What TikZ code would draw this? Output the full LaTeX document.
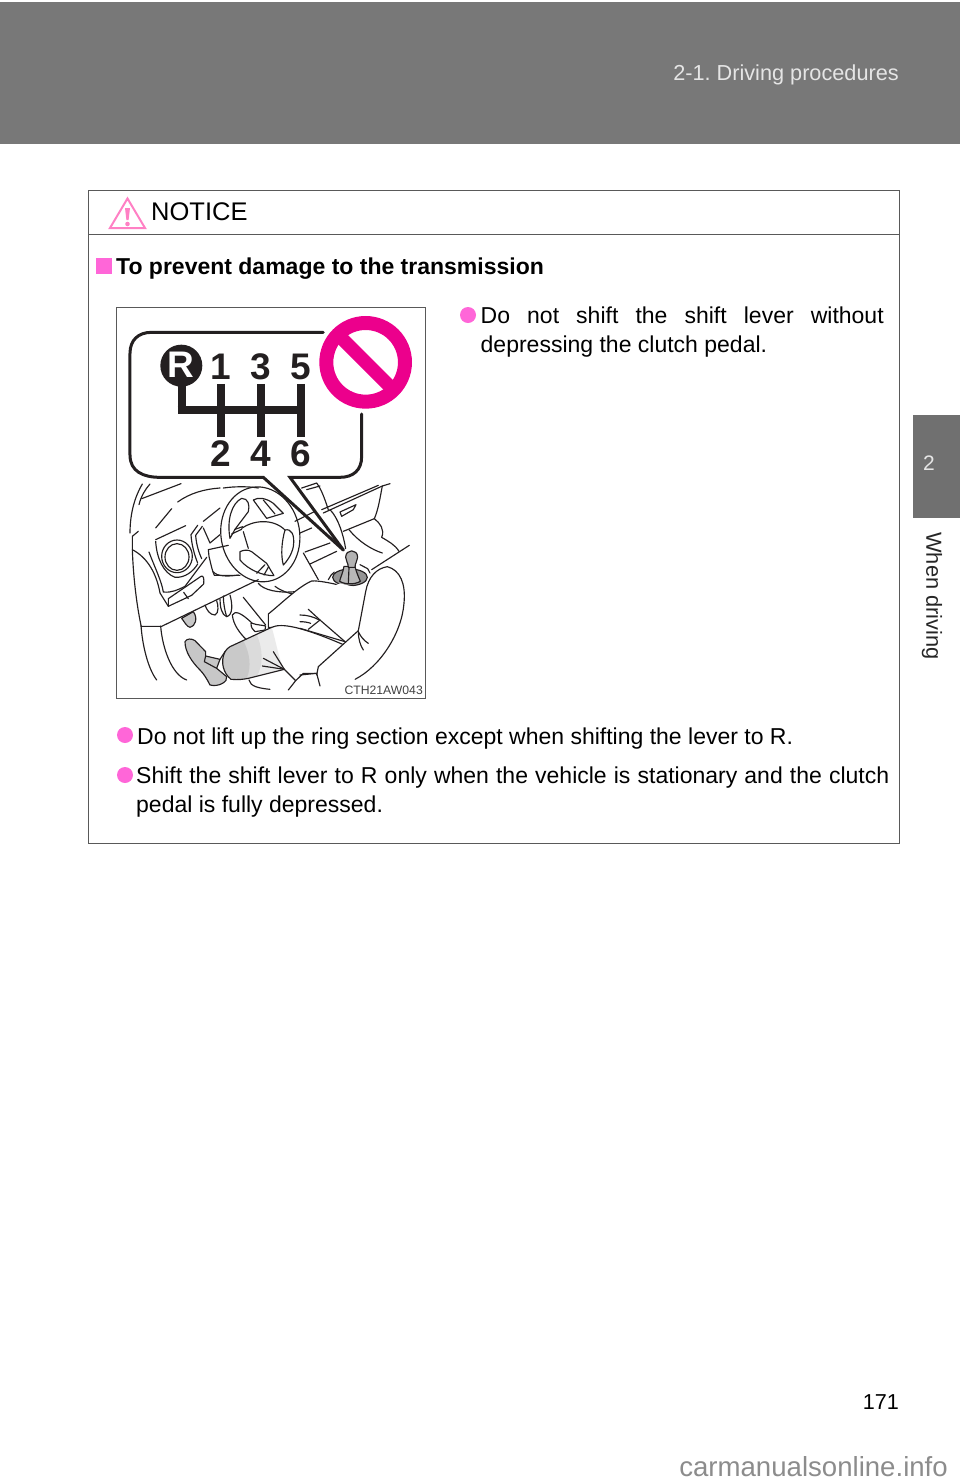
\documentclass[tikz,border=0pt]{standalone}
\usepackage{fontspec}
\setmainfont{Liberation Sans}
\usetikzlibrary{positioning}
\definecolor{headgray}{HTML}{787878}
\definecolor{tabgray}{HTML}{707070}
\definecolor{notepink}{HTML}{FF66D8}
\definecolor{warnpink}{HTML}{FF80C4}
\definecolor{banpink}{HTML}{EC008C}
\definecolor{inkblack}{HTML}{231F20}
\tikzset{
    bodytext/.style={anchor=base west,inner sep=0pt,font=\fontsize{23}{29}\selectfont,text=black,
        execute at begin node={\hyphenpenalty=10000\tolerance=9999}},
    dot/.style={circle,fill=notepink,inner sep=0pt,minimum size=16pt},
    art/.style={line width=1.15pt,inkblack,line cap=round,line join=round},
    gearnum/.style={font=\fontsize{37}{37}\selectfont\bfseries,text=inkblack,inner sep=0pt},
    gateline/.style={line width=8pt,inkblack},
    zoomed/.style={shift={#1},x=0.3333pt,y=-0.3333pt},
}
\begin{document}
\frenchspacing
\begin{tikzpicture}[x=1pt,y=-1pt]
    \useasboundingbox (0,0) rectangle (960,1484);
    %% Page furniture
    \fill[headgray] (0,2) rectangle (960,144);
    \fill[tabgray] (913,415) rectangle (960,518);
    \node[anchor=base east,inner sep=0pt,text=white!90!black,font=\fontsize{21.7}{26}\selectfont] (section) at (899,80) {2-1. Driving procedures};
    \node[text=white!90!black,inner sep=0pt,font=\fontsize{21}{25}\selectfont] (tabnum) at (929,463) {2};
    \node[rotate=-90,text=black!85,inner sep=0pt,font=\fontsize{21.8}{26}\selectfont] (tabname) at (932,596) {When driving};
    \node[anchor=base east,inner sep=0pt,font=\fontsize{21.6}{26}\selectfont] (pagenum) at (899,1409) {171};
    \node[anchor=base east,inner sep=0pt,text=black!45,font=\fontsize{27.6}{30}\selectfont] (website) at (948,1476) {carmanualsonline.info};
    %% Notice box
    \draw[line width=1pt,black!65] (88.5,190.5) rectangle (899.5,843.5);
    \draw[line width=1pt,black!65] (88.5,234) -- (899.5,234);
    \draw[warnpink,line width=2pt,line join=miter] (127.5,198.5) -- (145,228) -- (110,228) -- cycle;
    \fill[warnpink] (125,208) -- (130,208) -- (128.6,220) -- (126.4,220) -- cycle;
    \fill[warnpink] (127.5,224) circle (2.3pt);
    \node[anchor=base west,inner sep=0pt,font=\fontsize{25.5}{32}\selectfont] (notice) at (151,220) {NOTICE};
    \fill[notepink] (96,258) rectangle (112,274);
    \node[bodytext,font=\fontsize{23}{29}\selectfont\bfseries] (heading) at (116,274) {To prevent damage to the transmission};
    %% Bullets
    \node[dot] (dota) at (468,315) {};
    \node[bodytext,anchor=north west,text width=403pt,align=justify] (texta) at (480.5,307) {Do not shift the shift lever without depressing the clutch pedal.};
    \node[dot] (dotb) at (125,735) {};
    \node[bodytext] (textb) at (137,744) {Do not lift up the ring section except when shifting the lever to R.};
    \node[dot] (dotc) at (125,775) {};
    \node[bodytext,anchor=north west,text width=753pt,align=justify] (textc) at (136,767) {Shift the shift lever to R only when the vehicle is stationary and the clutch pedal is fully depressed.};
    %% Picture frame
    \draw[line width=1pt,black!65] (116.5,307.5) rectangle (425,698.5);
    \node[anchor=base east,inner sep=0pt,text=black!75,font=\fontsize{12.2}{15}\selectfont] (partcode) at (423,694) {CTH21AW043};
    %% Dash, left half
    \begin{scope}[zoomed={(125,478)}]
        \draw[art] (15,165) .. controls (15,105) and (30,55) .. (52,18);
        \draw[art] (42,80) .. controls (48,55) and (60,35) .. (75,18);
        \draw[art] (50,62) -- (168,17);
        \draw[art] (158,72) .. controls (195,45) and (240,33) .. (285,30);
        \draw[art] (295,30) .. controls (330,25) and (370,25) .. (400,30);
        \draw[art] (40,160) -- (22,175) -- (22,215) .. controls (70,240) and (95,290) .. (105,345);
        \draw[art] (22,215) .. controls (25,300) and (35,380) .. (48,442);
        \draw[art] (48,445) -- (110,445) -- (400,305);
        \draw[art] (105,345) -- (130,385);
        \draw[art] (48,442) .. controls (52,500) and (68,570) .. (95,606);
        \draw[art] (107,444) .. controls (112,510) and (140,590) .. (185,606);
        \draw[art] (140,92) -- (92,150);
        \draw[art] (92,185) -- (182,143);
        \draw[art] (72,222) .. controls (90,270) and (110,310) .. (115,342) .. controls (140,345) and (160,335) .. (180,325) -- (245,238);
        \draw[art] (92,190) .. controls (95,240) and (115,285) .. (150,298) .. controls (180,300) and (205,280) .. (218,258);
        \draw[art] (156,235) ellipse (46 and 49);
        \draw[art] (156,237) ellipse (36 and 40);
        \draw[art] (218,142) -- (198,170) .. controls (200,200) and (208,230) .. (218,255);
        \draw[art] (232,145) -- (212,172) .. controls (214,200) and (222,225) .. (230,242);
        \draw[art] (130,385) -- (130,362) -- (228,295) .. controls (235,292) and (238,300) .. (236,318) -- (200,352) -- cycle;
        \draw[art] (176,343) -- (190,362);
        \draw[art] (235,130) -- (285,90);
        \draw[art] (235,150) -- (255,195) -- (285,170);
        \draw[art] (250,215) -- (310,202);
        \draw[art] (250,215) -- (252,235) .. controls (258,260) and (262,280) .. (268,292) -- (345,292);
    \end{scope}
    %% Wheel
    \begin{scope}[zoomed={(110,470)}]
        \draw[art,rotate around={10:(451,193)}] (451,193) ellipse (118 and 143);
        \draw[art] (360,205) .. controls (350,150) and (365,100) .. (395,85) .. controls (415,85) and (420,105) .. (415,125) -- (375,178) -- cycle;
        \draw[art] (375,178) -- (398,170);
        \draw[art] (365,192) -- (395,178);
        \draw[art] (430,90) -- (470,145) -- (520,130) -- (490,100) .. controls (470,85) and (445,80) .. (430,90) -- cycle;
        \draw[art] (460,90) -- (495,132);
        \draw[art] (525,180) .. controls (545,175) and (555,195) .. (550,230) .. controls (545,255) and (530,275) .. (520,285) .. controls (512,255) and (515,215) .. (525,180) -- cycle;
        \draw[art] (390,245) .. controls (400,240) and (415,238) .. (425,245) -- (470,280) -- (492,317) .. controls (460,318) and (415,300) .. (390,270) -- cycle;
        \draw[art] (440,310) -- (465,284);
        \draw[art] (462,315) -- (476,290);
        \draw[art] (395,175) .. controls (430,150) and (490,145) .. (525,180);
        \draw[art] (400,185) -- (415,235);
    \end{scope}
    %% Console and lever
    \begin{scope}[zoomed={(275,478)}]
        \draw[art] (80,30) -- (125,15) .. controls (140,35) and (150,65) .. (160,95);
        \draw[art] (95,35) -- (135,24);
        \draw[art] (140,95) -- (310,22);
        \draw[art] (145,105) -- (322,24);
        \draw[art] (345,17) -- (322,24) .. controls (315,60) and (310,95) .. (298,122);
        \draw[art] (205,160) -- (298,122);
        \draw[art] (195,102) -- (243,80) -- (235,95) -- (200,115) -- cycle;
        \draw[art] (165,95) .. controls (190,120) and (205,170) .. (212,212);
        \draw[art] (222,155) .. controls (250,190) and (290,215) .. (322,225);
        \draw[art] (298,122) .. controls (315,135) and (330,155) .. (320,178) .. controls (340,190) and (360,200) .. (372,220);
        \draw[art] (403,202) -- (290,275);
        \draw[art] (60,130) -- (120,100);
        \draw[art] (75,165) -- (110,150);
        \draw[art] (90,222) -- (165,195);
        \draw[art] (105,258) -- (185,220);
        \draw[art] (85,225) -- (130,305);
        \draw[art] (0,325) .. controls (20,340) and (40,345) .. (60,350);
        %% Lever
        \draw[art] (160,305) .. controls (165,295) and (170,288) .. (178,282);
        \draw[art] (255,260) -- (278,272) -- (285,285);
        \draw[art,fill=black!42] (225,298) ellipse (52 and 25);
        \draw[art,fill=black!28] (207,265) .. controls (204,285) and (196,298) .. (194,310) .. controls (210,320) and (240,320) .. (256,310) .. controls (250,295) and (243,280) .. (240,265) -- cycle;
        \draw[art] (222,270) -- (220,316);
        \draw[art,fill=black!30] (212,238) .. controls (212,212) and (248,212) .. (248,238) .. controls (248,248) and (240,255) .. (240,268) -- (220,268) .. controls (220,255) and (212,248) .. (212,238) -- cycle;
    \end{scope}
    %% Pedals and legs
    \begin{scope}[zoomed={(175,570)}]
        \draw[art,fill=black!22] (20,145) -- (55,125) .. controls (70,145) and (60,170) .. (45,172) .. controls (35,170) and (28,155) .. (20,145) -- cycle;
        \draw[art] (90,105) .. controls (95,120) and (105,135) .. (120,135) .. controls (132,130) and (130,105) .. (125,92);
        \draw[art] (135,88) .. controls (135,110) and (140,135) .. (155,140) .. controls (175,135) and (172,100) .. (165,75);
        \draw[art] (145,78) .. controls (145,100) and (150,125) .. (155,140);
        \draw[art] (115,5) .. controls (125,20) and (160,20) .. (190,15);
        \draw[art] (250,40) .. controls (265,60) and (310,70) .. (360,65);
        \draw[art] (205,82) -- (272,165);
        \draw[art,fill=white] (172,135) .. controls (180,122) and (195,125) .. (232,160) .. controls (245,165) and (260,165) .. (272,168) -- (270,180) -- (240,185) .. controls (232,178) and (228,172) .. (228,160);
        \draw[art] (172,135) .. controls (175,165) and (195,190) .. (215,210);
        \draw[art] (222,330) .. controls (225,350) and (255,355) .. (285,358);
        %% Far leg
        \draw[art,fill=white] (280,165) -- (280,132) .. controls (320,100) and (370,50) .. (410,33) .. controls (430,30) and (500,45) .. (545,60) -- (540,200) -- (280,172) -- cycle;
    \end{scope}
    \begin{scope}[zoomed={(300,560)}]
        \fill[white] (0,205) -- (135,245) -- (175,215) -- (200,90) -- (120,70) -- (0,120) -- cycle;
        \draw[art] (25,148) -- (60,180) -- (135,245);
        \draw[art] (0,165) .. controls (20,165) and (40,170) .. (58,180);
        \draw[art] (0,185) .. controls (12,185) and (25,187) .. (32,190);
        \draw[art] (25,208) -- (60,180);
    \end{scope}
    \begin{scope}[zoomed={(175,570)}]
        %% Near leg
        \fill[white] (290,172) .. controls (320,158) and (400,175) .. (510,230) -- (430,310) -- (385,310) -- (362,332) -- (328,298) -- cycle;
        \draw[art] (290,172) .. controls (320,158) and (380,170) .. (510,226);
        \fill[black!8] (150,245) -- (165,230) -- (290,172) .. controls (305,220) and (310,265) .. (328,298) -- (220,325) -- (168,328) .. controls (145,310) and (135,275) .. (150,245) -- cycle;
        \fill[black!14] (150,245) -- (165,230) -- (245,193) .. controls (265,240) and (265,285) .. (245,320) -- (220,325) -- (168,328) .. controls (145,310) and (135,275) .. (150,245) -- cycle;
        \fill[black!21] (150,245) -- (165,230) -- (205,212) .. controls (225,250) and (230,290) .. (215,326) -- (168,328) .. controls (145,310) and (135,275) .. (150,245) -- cycle;
        \draw[art] (150,245) .. controls (155,237) and (160,233) .. (165,230) -- (290,172);
        \draw[art] (168,328) .. controls (190,330) and (205,328) .. (220,325) -- (328,298);
        \draw[art] (150,245) .. controls (135,275) and (145,310) .. (168,328);
        \draw[art] (265,265) -- (328,298);
        \draw[art] (262,288) -- (328,298);
        \draw[art] (295,245) -- (328,298);
        \draw[art] (328,298) -- (362,332) -- (340,360);
        \draw[art] (362,332) -- (385,310) -- (425,310);
        %% Shoe
        \draw[art,fill=black!22] (30,215) .. controls (35,205) and (50,205) .. (60,212) -- (92,245) -- (92,258) -- (135,268) -- (125,295) -- (155,320) .. controls (160,335) and (130,352) .. (105,345) .. controls (95,325) and (85,310) .. (75,300) .. controls (50,275) and (30,245) .. (30,215) -- cycle;
        \draw[art] (92,258) -- (88,275) -- (125,295);
        \draw[art] (135,268) -- (150,245);
    \end{scope}
    %% Arm
    \begin{scope}[zoomed={(300,560)}]
        \draw[art,fill=white] (175,212) -- (197,95) .. controls (205,50) and (230,25) .. (262,20) .. controls (300,30) and (318,70) .. (312,130) .. controls (305,220) and (240,320) .. (165,358);
        \fill[white] (175,212) -- (55,320) -- (60,370) -- (165,358) -- cycle;
        \draw[art] (175,212) -- (55,320) -- (50,345);
        \draw[art] (50,340) -- (0,345);
        \draw[art] (50,340) -- (60,378);
        \draw[art] (175,215) .. controls (175,235) and (180,255) .. (190,270);
        \draw[art] (175,215) .. controls (182,230) and (192,242) .. (205,250);
        \draw[art] (0,205) -- (135,245);
    \end{scope}
    %% Gear pattern
    \begin{scope}[zoomed={(110,300)}]
        \draw[line width=3pt,inkblack,line cap=round] (640,97) -- (125,97) .. controls (85,97) and (60,120) .. (60,160)
            -- (60,465) .. controls (60,515) and (100,532) .. (150,532) -- (460,532) -- (700,750);
        \draw[line width=3pt,inkblack,line cap=round] (755,342) -- (755,470) .. controls (755,510) and (730,532) .. (690,532)
            -- (540,532) -- (700,750);
        \fill[inkblack] (214,197) circle (63);
        \node[inner sep=0pt,text=white,font=\fontsize{37}{37}\selectfont\bfseries] (rev) at (214,195) {R};
        \draw[gateline] (215,250) -- (215,330);
        \draw[gateline] (203,330) -- (585,330);
        \foreach \x/\up/\down in {333/1/2,453/3/4,572/5/6} {
            \draw[gateline] (\x,252) -- (\x,410);
            \node[gearnum] (gear\up) at (\x,201) {\up};
            \node[gearnum] (gear\down) at (\x,460) {\down};
        }
        %% No sign
        \draw[banpink,line width=14pt] (767,187) circle (118);
        \draw[banpink,line width=13.5pt] (695,115) -- (839,259);
    \end{scope}
\end{tikzpicture}
\end{document}
